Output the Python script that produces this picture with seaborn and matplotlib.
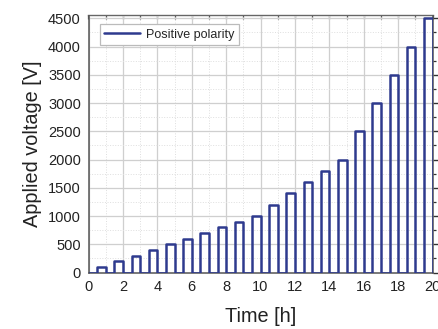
import numpy as np
import pandas as pd
import matplotlib
matplotlib.use("Agg")
import matplotlib.pyplot as plt
import seaborn as sns
from matplotlib.ticker import MultipleLocator

# Pulse data: voltage pulses applied in the second half of each hour
pulse_start = [0.5, 1.5, 2.5, 3.5, 4.5, 5.5, 6.5, 7.5, 8.5, 9.5,
               10.5, 11.5, 12.5, 13.5, 14.5, 15.5, 16.5, 17.5, 18.5, 19.5]
pulse_end = [1, 2, 3, 4, 5, 6, 7, 8, 9, 10,
             11, 12, 13, 14, 15, 16, 17, 18, 19, 20]
pulse_voltage = [100, 200, 300, 400, 500, 600, 700, 800, 900, 1000,
                 1200, 1400, 1600, 1800, 2000, 2500, 3000, 3500, 4000, 4500]

t, v = [0.0], [0.0]
for s, e, u in zip(pulse_start, pulse_end, pulse_voltage):
    t += [s, s, e, e]
    v += [0, u, u, 0]
df = pd.DataFrame({"Time [h]": t, "Applied voltage [V]": v,
                   "series": "Positive polarity"})

sns.set_theme(style="white")
plt.rcParams["font.family"] = ["Liberation Sans", "DejaVu Sans"]

fig = plt.figure(figsize=(4.38, 3.29), dpi=100)
ax = fig.add_axes([88.5 / 438, 1 - 272.5 / 329, (432.5 - 88.5) / 438, (272.5 - 15.5) / 329])

color = "#2E3A8E"
sns.lineplot(data=df, x="Time [h]", y="Applied voltage [V]", hue="series",
             palette=[color], sort=False, estimator=None, ax=ax,
             linewidth=1.8, zorder=3)

ax.set_xlim(0, 20)
ax.set_ylim(0, 4550)
ax.xaxis.set_major_locator(MultipleLocator(2))
ax.xaxis.set_minor_locator(MultipleLocator(1))
ax.yaxis.set_major_locator(MultipleLocator(500))
ax.yaxis.set_minor_locator(MultipleLocator(250))

ax.grid(which="major", color="#cfcfcf", linewidth=0.9, linestyle="-")
ax.grid(which="minor", color="#dedede", linewidth=0.7, linestyle=":")
ax.set_axisbelow(True)

for side in ["left", "bottom", "right"]:
    ax.spines[side].set_visible(True)
    ax.spines[side].set_color("#555555")
    ax.spines[side].set_linewidth(1.1)
ax.spines["top"].set_visible(False)

ax.tick_params(axis="both", which="major", direction="out", length=3.5,
               width=1, color="#333333", labelsize=10.5, labelcolor="#222222", pad=2)
ax.tick_params(axis="both", which="minor", direction="out", length=2.2,
               width=0.9, color="#333333")
ax.tick_params(axis="y", which="both", right=True)

top = ax.secondary_xaxis("top")
top.xaxis.set_major_locator(MultipleLocator(1))
top.tick_params(direction="in", length=3, width=0.9, color="#555555", labeltop=False)
top.spines["top"].set_color("#666666")
top.spines["top"].set_linewidth(1.0)

ax.set_xlabel("Time [h]", fontsize=14.3, color="#222222", labelpad=9)
ax.set_ylabel("Applied voltage [V]", fontsize=14.3, color="#222222", labelpad=4)

leg = ax.legend(loc="upper left", bbox_to_anchor=(0.025, 0.975), fontsize=9,
                frameon=True, fancybox=False, handlelength=2.9, borderpad=0.35,
                handletextpad=0.5, borderaxespad=0.2)
leg.get_frame().set_edgecolor("#bbbbbb")
leg.get_frame().set_linewidth(0.9)
leg.get_frame().set_facecolor("white")
leg.get_frame().set_alpha(1)

fig.savefig("out.png", dpi=100)
